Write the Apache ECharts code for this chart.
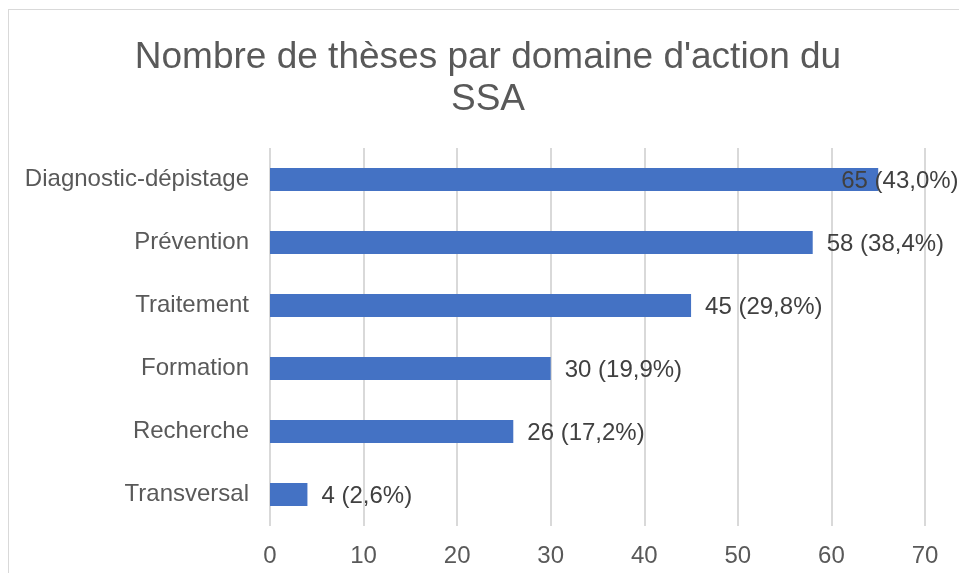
<!DOCTYPE html>
<html>
<head>
<meta charset="utf-8">
<title>Nombre de thèses par domaine d'action du SSA</title>
<script src="https://cdn.jsdelivr.net/npm/echarts@6/dist/echarts.min.js"></script>
<style>
  html, body { margin: 0; padding: 0; background: #fff; overflow: hidden; }
  #frame { position: absolute; left: 8px; top: 9px; width: 1000px; height: 600px;
           border-left: 1px solid #d9d9d9; border-top: 1px solid #d9d9d9; }
  #chart { position: absolute; left: 0; top: 0; width: 959px; height: 573px; }
</style>
</head>
<body>
<div id="frame"></div>
<div id="chart"></div>
<script>
// domaines d'action (haut -> bas)
var domaines = ['Diagnostic-dépistage', 'Prévention', 'Traitement', 'Formation', 'Recherche', 'Transversal'];
var nbTheses = [65, 58, 45, 30, 26, 4];
var pourcents = ['43,0%', '38,4%', '29,8%', '19,9%', '17,2%', '2,6%'];
var ticksX = [0, 10, 20, 30, 40, 50, 60, 70];

var police = 'Arial, "Liberation Sans", sans-serif';
var chart = echarts.init(document.getElementById('chart'));

var donnees = nbTheses.map(function (v, i) {
  var d = { value: v, pct: pourcents[i] };
  // etiquette repoussee a gauche quand elle deborde (comme dans Excel)
  if (i === 0) d.label = { offset: [-51, 2] };
  return d;
});

chart.setOption({
  animation: false,
  title: {
    text: "Nombre de thèses par domaine d'action du\nSSA",
    left: 488,
    top: 37,
    padding: 0,
    textAlign: 'center',
    textStyle: { fontFamily: police, fontSize: 37, fontWeight: 'normal', color: '#595959', lineHeight: 42 }
  },
  grid: { left: 270, right: 34, top: 148, bottom: 47, containLabel: false },
  xAxis: {
    type: 'value',
    min: ticksX[0],
    max: ticksX[ticksX.length - 1],
    interval: 10,
    axisLine: { show: false },
    axisTick: { show: false },
    splitLine: { show: true, showMinLine: true, showMaxLine: true, lineStyle: { color: '#d9d9d9', width: 2 } },
    axisLabel: { margin: 18, fontFamily: police, fontSize: 24, color: '#595959' }
  },
  yAxis: {
    type: 'category',
    data: domaines,
    inverse: true,
    axisLine: { show: false },
    axisTick: { show: false },
    axisLabel: { margin: 21, padding: [4, 0, 0, 0], fontFamily: police, fontSize: 24, color: '#595959' }
  },
  series: [{
    type: 'bar',
    data: donnees,
    barWidth: 23,
    itemStyle: { color: '#4472C4' },
    label: {
      show: true,
      position: 'right',
      distance: 14,
      offset: [0, 2],
      fontFamily: police,
      fontSize: 24,
      color: '#404040',
      formatter: function (p) { return p.value + ' (' + p.data.pct + ')'; }
    }
  }]
});
</script>
</body>
</html>
